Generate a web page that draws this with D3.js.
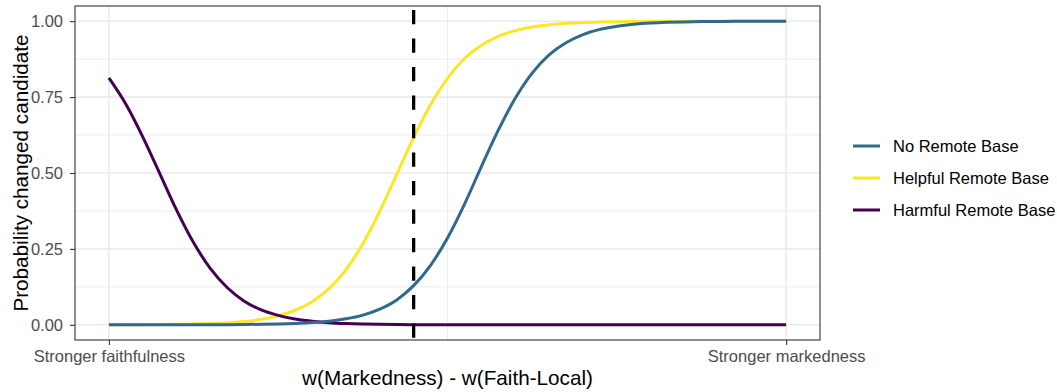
<!DOCTYPE html>
<html>
<head>
<meta charset="utf-8">
<script src="https://cdn.jsdelivr.net/npm/d3@7"></script>
<style>
  body { margin: 0; background: #fff; }
  svg text { font-family: 'Liberation Sans', Arial, sans-serif; }
</style>
</head>
<body>
<div id="chart"></div>
<script>
// relative weight, 0 = stronger faithfulness, 1 = stronger markedness
const xSteps = [0, 0.025, 0.05, 0.075, 0.1, 0.125, 0.15, 0.175, 0.2, 0.225,
  0.25, 0.275, 0.3, 0.325, 0.35, 0.375, 0.4, 0.425, 0.45, 0.475, 0.5,
  0.525, 0.55, 0.575, 0.6, 0.625, 0.65, 0.675, 0.7, 0.725, 0.75,
  0.775, 0.8, 0.825, 0.85, 0.875, 0.9, 0.925, 0.95, 0.975, 1];

const noRemote = [0.0000, 0.0000, 0.0001, 0.0001, 0.0001, 0.0002, 0.0004, 0.0006,
  0.0010, 0.0017, 0.0027, 0.0045, 0.0074, 0.012, 0.0197, 0.032, 0.0517, 0.082,
  0.129, 0.196, 0.286, 0.397, 0.521, 0.641, 0.746, 0.829, 0.889, 0.929, 0.956,
  0.973, 0.983, 0.9897, 0.9938, 0.9962, 0.9977, 0.9986, 0.9991, 0.9995, 0.9997,
  0.9998, 0.9999];
const helpful = [0.0002, 0.0004, 0.0006, 0.0010, 0.0016, 0.0026, 0.0042, 0.0069,
  0.011, 0.018, 0.030, 0.048, 0.076, 0.119, 0.181, 0.267, 0.374, 0.495, 0.617,
  0.725, 0.812, 0.877, 0.921, 0.950, 0.969, 0.981, 0.988, 0.9928, 0.9956, 0.9973,
  0.9984, 0.9990, 0.9994, 0.9996, 0.9998, 0.9999, 0.9999, 1.0, 1.0, 1.0, 1.0];
const harmful = [0.813, 0.727, 0.619, 0.499, 0.378, 0.271, 0.185, 0.122, 0.078,
  0.049, 0.031, 0.019, 0.012, 0.0072, 0.0044, 0.0027, 0.0017, 0.0010, 0.0006,
  0.0004, 0.0002, 0.0001, 0.0001, 0.0000, 0.0000, 0.0000, 0.0000, 0.0000, 0.0000,
  0.0000, 0.0000, 0.0000, 0.0000, 0.0000, 0.0000, 0.0000, 0.0000, 0.0000, 0.0000,
  0.0000, 0.0000];

const seriesNames = ['No Remote Base', 'Helpful Remote Base', 'Harmful Remote Base'];
const seriesColors = ['#31688E', '#FDE725', '#440154'];
const drawOrder = [1, 2, 0];

const yTicks = [0, 0.25, 0.5, 0.75, 1];
const yMinor = [0.125, 0.375, 0.625, 0.875];
const xTicks = [0, 1];
const xMinor = [0.5];
const xTickLabels = ['Stronger faithfulness', 'Stronger markedness'];
const thresholdX = 0.45;

const width = 1057;
const height = 392;
const panel = {left: 75, right: 820, top: 6, bottom: 340};

let svg = d3.select('#chart')
  .append('svg')
    .attr('width', width)
    .attr('height', height);

svg.append('rect')
    .attr('width', width)
    .attr('height', height)
    .attr('fill', '#fff');

let x = d3.scaleLinear()
    .domain([-0.05, 1.05])
    .range([panel.left, panel.right]);

let y = d3.scaleLinear()
    .domain([-0.05, 1.05])
    .range([panel.bottom, panel.top]);

let grid = svg.append('g');

grid.selectAll('.minor-y')
    .data(yMinor)
  .enter()
  .append('line')
    .attr('x1', panel.left)
    .attr('x2', panel.right)
    .attr('y1', function(d) { return y(d); })
    .attr('y2', function(d) { return y(d); })
    .attr('stroke', '#EBEBEB')
    .attr('stroke-width', 0.9);

grid.selectAll('.minor-x')
    .data(xMinor)
  .enter()
  .append('line')
    .attr('y1', panel.top)
    .attr('y2', panel.bottom)
    .attr('x1', function(d) { return x(d); })
    .attr('x2', function(d) { return x(d); })
    .attr('stroke', '#EBEBEB')
    .attr('stroke-width', 0.9);

grid.selectAll('.major-y')
    .data(yTicks)
  .enter()
  .append('line')
    .attr('x1', panel.left)
    .attr('x2', panel.right)
    .attr('y1', function(d) { return y(d); })
    .attr('y2', function(d) { return y(d); })
    .attr('stroke', '#EBEBEB')
    .attr('stroke-width', 1.6);

grid.selectAll('.major-x')
    .data(xTicks)
  .enter()
  .append('line')
    .attr('y1', panel.top)
    .attr('y2', panel.bottom)
    .attr('x1', function(d) { return x(d); })
    .attr('x2', function(d) { return x(d); })
    .attr('stroke', '#EBEBEB')
    .attr('stroke-width', 1.6);

let line = d3.line()
    .x(function(d) { return x(d[0]); })
    .y(function(d) { return y(d[1]); })
    .curve(d3.curveMonotoneX);

let seriesValues = [noRemote, helpful, harmful];

drawOrder.forEach(function(i) {
  svg.append('path')
      .datum(d3.zip(xSteps, seriesValues[i]))
      .attr('d', line)
      .attr('fill', 'none')
      .attr('stroke', seriesColors[i])
      .attr('stroke-width', 3)
      .attr('stroke-linejoin', 'round');
});

svg.append('line')
    .attr('x1', x(thresholdX))
    .attr('x2', x(thresholdX))
    .attr('y1', panel.top)
    .attr('y2', panel.bottom)
    .attr('stroke', '#000')
    .attr('stroke-width', 3.3)
    .attr('stroke-dasharray', '14.2 14.3')
    .attr('stroke-dashoffset', 24.5);

svg.append('rect')
    .attr('x', panel.left)
    .attr('y', panel.top)
    .attr('width', panel.right - panel.left)
    .attr('height', panel.bottom - panel.top)
    .attr('fill', 'none')
    .attr('stroke', '#333333')
    .attr('stroke-width', 1.1);

let yAxis = svg.append('g')
    .attr('transform', 'translate(' + panel.left + ',0)')
    .call(d3.axisLeft(y)
      .tickValues(yTicks)
      .tickFormat(d3.format('.2f'))
      .tickSize(5)
      .tickPadding(7));

let xAxis = svg.append('g')
    .attr('transform', 'translate(0,' + panel.bottom + ')')
    .call(d3.axisBottom(x)
      .tickValues(xTicks)
      .tickFormat(function(d, i) { return xTickLabels[i]; })
      .tickSize(5)
      .tickPadding(5));

[yAxis, xAxis].forEach(function(ax) {
  ax.select('.domain').remove();
  ax.selectAll('.tick line')
      .attr('stroke', '#333333')
      .attr('stroke-width', 1.1);
  ax.selectAll('.tick text')
      .attr('fill', '#4D4D4D')
      .attr('font-size', 16.5)
      .attr('font-family', null);
});

svg.append('text')
    .attr('x', (panel.left + panel.right) / 2)
    .attr('y', 385)
    .attr('text-anchor', 'middle')
    .attr('font-size', 20.7)
    .attr('fill', '#000')
    .text('w(Markedness) - w(Faith-Local)');

svg.append('text')
    .attr('transform', 'translate(28,' + (panel.top + panel.bottom) / 2 + ') rotate(-90)')
    .attr('text-anchor', 'middle')
    .attr('font-size', 20.7)
    .attr('fill', '#000')
    .text('Probability changed candidate');

let legend = svg.append('g')
    .attr('transform', 'translate(853,146)');

let legendRows = legend.selectAll('g')
    .data(seriesNames)
  .enter()
  .append('g')
    .attr('transform', function(d, i) { return 'translate(0,' + (i * 32) + ')'; });

legendRows.append('line')
    .attr('x1', 0)
    .attr('x2', 27)
    .attr('stroke', function(d, i) { return seriesColors[i]; })
    .attr('stroke-width', 3);

legendRows.append('text')
    .attr('x', 40)
    .attr('dy', '0.35em')
    .attr('font-size', 16.5)
    .attr('fill', '#000')
    .text(function(d) { return d; });
</script>
</body>
</html>
